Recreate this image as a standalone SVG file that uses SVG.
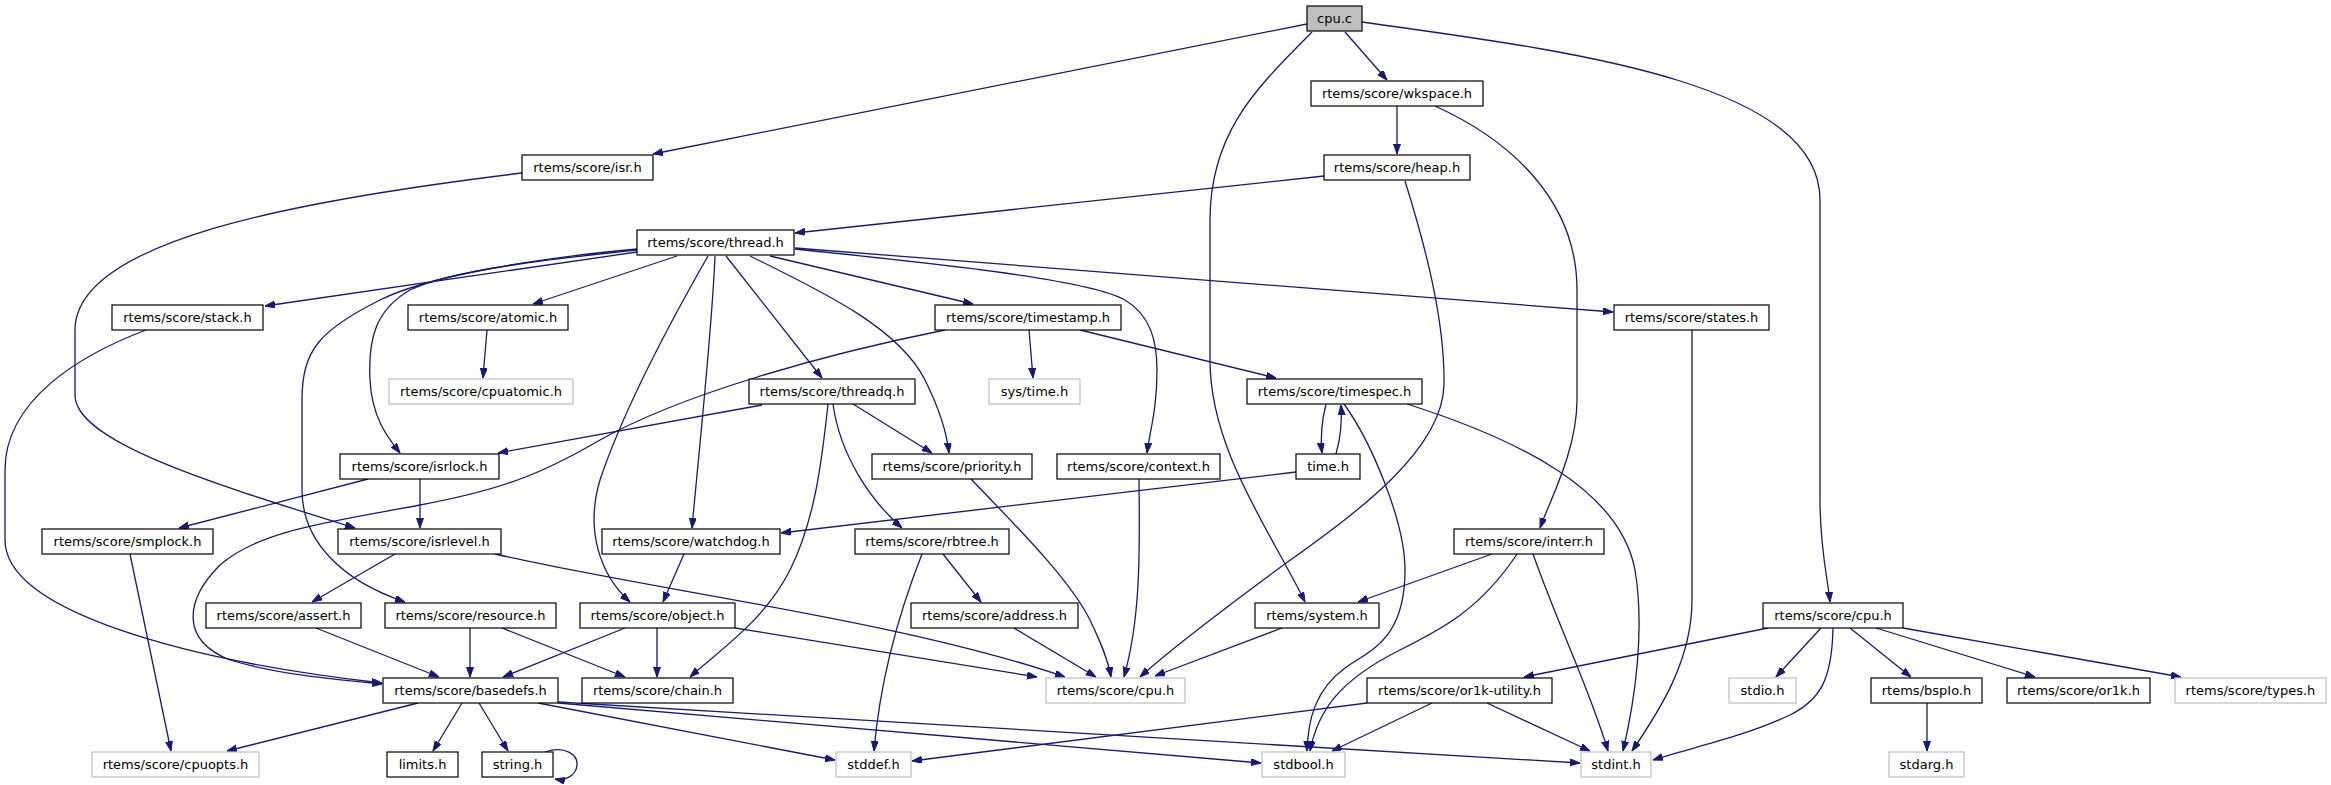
<svg xmlns="http://www.w3.org/2000/svg" width="2331" height="785" viewBox="0 0 2331 785">
<style>
.n rect{fill:#ffffff;stroke:#000000;stroke-width:1.2}
.g rect{fill:#ffffff;stroke:#bfbfbf;stroke-width:1.2}
.r rect{fill:#bfbfbf;stroke:#000000;stroke-width:1.2}
text{font-family:"DejaVu Sans","Liberation Sans",sans-serif;font-size:13px;text-anchor:middle;fill:#000000}
.e path{fill:none;stroke:#191970;stroke-width:1.3;marker-end:url(#a)}
</style>
<defs>
<marker id="a" markerWidth="10" markerHeight="8" refX="10" refY="3.5" orient="auto" markerUnits="userSpaceOnUse"><path d="M0,0 L10,3.5 L0,7 z" fill="#191970" stroke="#191970" stroke-width="1"/></marker>
</defs>
<rect width="2331" height="785" fill="#ffffff"/>
<g id="edges" class="e">
<path d="M1307,24 L653,154"/>
<path d="M1345,32 L1387,80"/>
<path d="M1312,32 C1260,85 1210,130 1210,220 L1210,360 C1210,450 1270,530 1305,602"/>
<path d="M1362,22 C1560,50 1820,80 1820,200 L1820,500 C1820,550 1828,580 1830,602"/>
<path d="M1397,106 L1397,154"/>
<path d="M1435,106 C1510,140 1577,200 1577,290 L1577,400 C1577,450 1550,500 1540,528"/>
<path d="M1324,176 L795,233"/>
<path d="M1405,181 C1425,245 1445,320 1444,385 C1442,460 1330,530 1270,575 C1220,612 1170,650 1140,677"/>
<path d="M522,173 C300,200 75,240 75,330 L75,395 C75,440 200,480 355,528"/>
<path d="M637,252 L265,306"/>
<path d="M677,256 L533,304"/>
<path d="M637,250 C560,258 450,270 410,290 C375,310 368,340 370,380 C372,420 390,440 400,453"/>
<path d="M637,249 C540,258 430,275 380,300 C320,330 302,350 302,400 L302,490 C302,540 340,580 405,602"/>
<path d="M708,256 C660,340 620,420 600,480 C585,530 600,575 630,602"/>
<path d="M715,256 C712,330 700,440 692,528"/>
<path d="M726,256 L822,378"/>
<path d="M750,256 C830,295 900,330 925,380 C940,410 947,435 949,453"/>
<path d="M770,256 L973,304"/>
<path d="M795,249 C950,265 1090,280 1125,300 C1150,315 1157,340 1157,370 C1157,410 1150,430 1147,453"/>
<path d="M795,248 L1613,312"/>
<path d="M146,330 C80,355 5,400 5,470 L5,540 C5,610 180,660 382,683"/>
<path d="M487,330 L483,378"/>
<path d="M945,330 C820,355 680,395 600,440 C540,475 500,490 420,505 C330,522 260,530 220,565 C185,600 180,640 230,660 C280,675 340,680 382,684"/>
<path d="M1029,330 L1033,378"/>
<path d="M1080,330 L1276,378"/>
<path d="M1692,330 L1692,600 C1692,660 1660,710 1632,751"/>
<path d="M762,405 L498,453"/>
<path d="M853,404 L932,453"/>
<path d="M833,404 C840,455 870,500 902,528"/>
<path d="M828,404 C822,460 815,520 790,570 C765,620 720,650 690,677"/>
<path d="M1326,404 C1322,420 1320,435 1322,453"/>
<path d="M1336,454 C1340,440 1342,420 1341,405"/>
<path d="M1344,404 C1370,440 1405,520 1405,570 C1405,640 1370,650 1345,668 C1315,690 1308,720 1307,751"/>
<path d="M1407,404 C1520,440 1620,490 1635,570 C1645,630 1635,700 1623,751"/>
<path d="M1296,472 L781,533"/>
<path d="M368,479 L179,528"/>
<path d="M420,479 L420,528"/>
<path d="M971,479 C1020,530 1070,580 1090,620 C1102,645 1108,660 1111,677"/>
<path d="M1139,479 C1140,560 1140,620 1124,677"/>
<path d="M130,554 L171,751"/>
<path d="M395,554 L312,602"/>
<path d="M495,554 C650,590 900,620 1065,677"/>
<path d="M684,554 L663,602"/>
<path d="M943,554 L981,602"/>
<path d="M922,554 C900,610 880,680 874,751"/>
<path d="M1492,554 L1358,602"/>
<path d="M1517,554 C1480,610 1440,630 1400,650 C1340,680 1318,710 1310,751"/>
<path d="M1533,554 C1560,630 1590,690 1608,751"/>
<path d="M316,628 L439,677"/>
<path d="M470,628 L470,677"/>
<path d="M502,628 L625,677"/>
<path d="M625,628 L503,677"/>
<path d="M657,628 L657,677"/>
<path d="M735,628 L1037,677"/>
<path d="M1014,628 L1096,677"/>
<path d="M1282,628 L1155,676"/>
<path d="M1768,628 L1524,677"/>
<path d="M1821,628 L1776,677"/>
<path d="M1833,628 C1832,680 1820,700 1790,715 C1740,738 1690,748 1653,760"/>
<path d="M1850,628 L1911,677"/>
<path d="M1876,628 L2035,677"/>
<path d="M1903,628 L2181,677"/>
<path d="M1927,703 L1927,751"/>
<path d="M1367,703 L912,761"/>
<path d="M1432,703 L1332,751"/>
<path d="M1487,703 L1590,751"/>
<path d="M418,703 L227,751"/>
<path d="M462,703 L433,751"/>
<path d="M479,703 L508,751"/>
<path d="M538,703 L835,760"/>
<path d="M558,703 L1261,763"/>
<path d="M558,702 L1580,763"/>
<path d="M545,752 C565,745 578,755 577,765 C576,776 565,781 555,779"/>
</g>
<g id="n_cpu_c" class="r"><rect x="1307" y="6" width="55" height="25"/><text x="1334.5" y="23">cpu.c</text></g>
<g id="n_wkspace" class="n"><rect x="1311" y="81" width="172" height="25"/><text x="1397" y="98">rtems/score/wkspace.h</text></g>
<g id="n_isr" class="n"><rect x="522" y="155" width="131" height="25"/><text x="587.5" y="172">rtems/score/isr.h</text></g>
<g id="n_heap" class="n"><rect x="1324" y="155" width="146" height="25"/><text x="1397" y="172">rtems/score/heap.h</text></g>
<g id="n_thread" class="n"><rect x="637" y="230" width="157" height="25"/><text x="715.5" y="247">rtems/score/thread.h</text></g>
<g id="n_stack" class="n"><rect x="112" y="305" width="151" height="25"/><text x="187.5" y="322">rtems/score/stack.h</text></g>
<g id="n_atomic" class="n"><rect x="408" y="305" width="160" height="25"/><text x="488" y="322">rtems/score/atomic.h</text></g>
<g id="n_timestamp" class="n"><rect x="935" y="305" width="186" height="25"/><text x="1028" y="322">rtems/score/timestamp.h</text></g>
<g id="n_states" class="n"><rect x="1614" y="305" width="155" height="25"/><text x="1691.5" y="322">rtems/score/states.h</text></g>
<g id="n_cpuatomic" class="g"><rect x="389" y="379" width="184" height="25"/><text x="481" y="396">rtems/score/cpuatomic.h</text></g>
<g id="n_threadq" class="n"><rect x="749" y="379" width="166" height="25"/><text x="832" y="396">rtems/score/threadq.h</text></g>
<g id="n_systime" class="g"><rect x="989" y="379" width="91" height="25"/><text x="1034.5" y="396">sys/time.h</text></g>
<g id="n_timespec" class="n"><rect x="1247" y="379" width="175" height="25"/><text x="1334.5" y="396">rtems/score/timespec.h</text></g>
<g id="n_isrlock" class="n"><rect x="340" y="454" width="159" height="25"/><text x="419.5" y="471">rtems/score/isrlock.h</text></g>
<g id="n_priority" class="n"><rect x="872" y="454" width="160" height="25"/><text x="952" y="471">rtems/score/priority.h</text></g>
<g id="n_context" class="n"><rect x="1057" y="454" width="163" height="25"/><text x="1138.5" y="471">rtems/score/context.h</text></g>
<g id="n_time" class="n"><rect x="1296" y="454" width="64" height="25"/><text x="1328" y="471">time.h</text></g>
<g id="n_smplock" class="n"><rect x="42" y="529" width="171" height="25"/><text x="127.5" y="546">rtems/score/smplock.h</text></g>
<g id="n_isrlevel" class="n"><rect x="338" y="529" width="163" height="25"/><text x="419.5" y="546">rtems/score/isrlevel.h</text></g>
<g id="n_watchdog" class="n"><rect x="602" y="529" width="178" height="25"/><text x="691" y="546">rtems/score/watchdog.h</text></g>
<g id="n_rbtree" class="n"><rect x="855" y="529" width="154" height="25"/><text x="932" y="546">rtems/score/rbtree.h</text></g>
<g id="n_interr" class="n"><rect x="1454" y="529" width="150" height="25"/><text x="1529" y="546">rtems/score/interr.h</text></g>
<g id="n_assert" class="n"><rect x="206" y="603" width="155" height="25"/><text x="283.5" y="620">rtems/score/assert.h</text></g>
<g id="n_resource" class="n"><rect x="385" y="603" width="171" height="25"/><text x="470.5" y="620">rtems/score/resource.h</text></g>
<g id="n_object" class="n"><rect x="580" y="603" width="155" height="25"/><text x="657.5" y="620">rtems/score/object.h</text></g>
<g id="n_address" class="n"><rect x="911" y="603" width="167" height="25"/><text x="994.5" y="620">rtems/score/address.h</text></g>
<g id="n_system" class="n"><rect x="1255" y="603" width="124" height="25"/><text x="1317" y="620">rtems/system.h</text></g>
<g id="n_cpuh_arch" class="n"><rect x="1763" y="603" width="140" height="25"/><text x="1833" y="620">rtems/score/cpu.h</text></g>
<g id="n_basedefs" class="n"><rect x="383" y="678" width="175" height="25"/><text x="470.5" y="695">rtems/score/basedefs.h</text></g>
<g id="n_chain" class="n"><rect x="582" y="678" width="151" height="25"/><text x="657.5" y="695">rtems/score/chain.h</text></g>
<g id="n_cpuh" class="g"><rect x="1046" y="678" width="139" height="25"/><text x="1115.5" y="695">rtems/score/cpu.h</text></g>
<g id="n_or1kutil" class="n"><rect x="1367" y="678" width="185" height="25"/><text x="1459.5" y="695">rtems/score/or1k-utility.h</text></g>
<g id="n_stdio" class="g"><rect x="1729" y="678" width="67" height="25"/><text x="1762.5" y="695">stdio.h</text></g>
<g id="n_bspio" class="n"><rect x="1871" y="678" width="111" height="25"/><text x="1926.5" y="695">rtems/bspIo.h</text></g>
<g id="n_or1k" class="n"><rect x="2007" y="678" width="143" height="25"/><text x="2078.5" y="695">rtems/score/or1k.h</text></g>
<g id="n_types" class="g"><rect x="2175" y="678" width="151" height="25"/><text x="2250.5" y="695">rtems/score/types.h</text></g>
<g id="n_cpuopts" class="g"><rect x="92" y="752" width="167" height="25"/><text x="175.5" y="769">rtems/score/cpuopts.h</text></g>
<g id="n_limits" class="n"><rect x="387" y="752" width="71" height="25"/><text x="422.5" y="769">limits.h</text></g>
<g id="n_string" class="n"><rect x="482" y="752" width="71" height="25"/><text x="517.5" y="769">string.h</text></g>
<g id="n_stddef" class="g"><rect x="836" y="752" width="75" height="25"/><text x="873.5" y="769">stddef.h</text></g>
<g id="n_stdbool" class="g"><rect x="1262" y="752" width="83" height="25"/><text x="1303.5" y="769">stdbool.h</text></g>
<g id="n_stdint" class="g"><rect x="1581" y="752" width="70" height="25"/><text x="1616" y="769">stdint.h</text></g>
<g id="n_stdarg" class="g"><rect x="1889" y="752" width="75" height="25"/><text x="1926.5" y="769">stdarg.h</text></g>
</svg>
